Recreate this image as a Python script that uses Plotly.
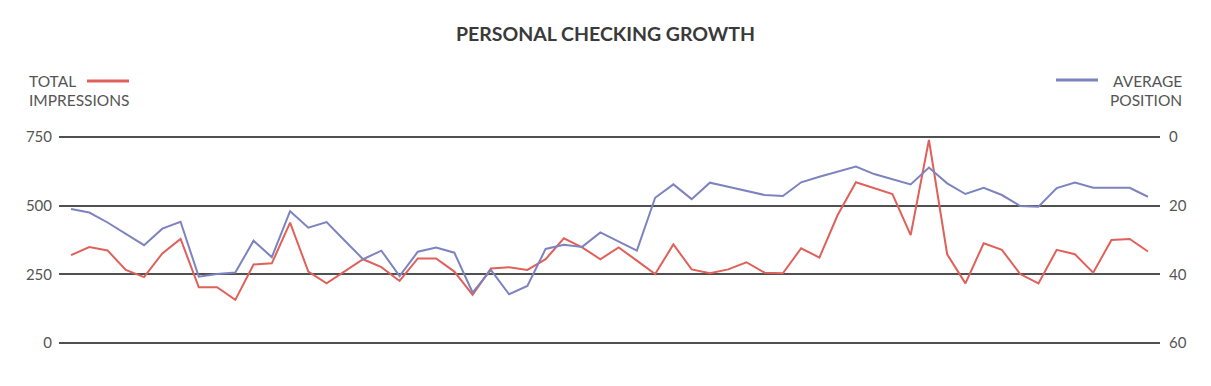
import plotly.graph_objects as go

# Data
periods = list(range(60))
total_impressions = [320, 349, 337, 266, 240, 326, 379, 203, 203, 157,
                     286, 290, 438, 260, 217, 260, 305, 276, 226, 308,
                     308, 260, 175, 271, 276, 266, 305, 381, 348, 305,
                     348, 300, 251, 359, 268, 254, 268, 294, 256, 254,
                     345, 311, 466, 585, 564, 542, 393, 739, 323, 217,
                     363, 339, 251, 217, 339, 323, 256, 375, 379, 333]
average_position = [21.0, 22.0, 24.9, 28.3, 31.5, 26.7, 24.7, 40.7, 39.9, 39.5,
                    30.2, 35.0, 21.6, 26.4, 24.8, 30.2, 35.6, 33.1, 40.5, 33.4,
                    32.2, 33.7, 45.3, 38.7, 45.8, 43.4, 32.6, 31.4, 32.0, 27.8,
                    30.4, 33.1, 17.7, 13.8, 18.1, 13.3, 14.5, 15.6, 16.9, 17.2,
                    13.2, 11.6, 10.2, 8.6, 10.8, 12.3, 13.8, 8.9, 13.5, 16.6,
                    14.8, 16.9, 20.1, 20.3, 14.9, 13.3, 14.8, 14.8, 14.8, 17.4]
left_ticks = [0, 250, 500, 750]
right_ticks = [0, 20, 40, 60]

RED = "#E0605A"
BLUE = "#7C83BF"
TXT = "#555555"
GRID = "#505050"
FONT = "Lato"

W, H = 1211, 386
# plot area extended by 2px top/bottom so the 0 and 750 grid lines are not clipped
L, R, T, B = 59, 1160, 135, 345
PAD = 2.0  # px


def px(x):
    return (x - L) / (R - L)


def py(y):
    return (B - y) / (B - T)


fig = go.Figure()
fig.add_trace(go.Scatter(x=periods, y=total_impressions, mode="lines",
                         line=dict(color=RED, width=2), name="TOTAL IMPRESSIONS",
                         yaxis="y"))
fig.add_trace(go.Scatter(x=periods, y=average_position, mode="lines",
                         line=dict(color=BLUE, width=2), name="AVERAGE POSITION",
                         yaxis="y2"))

inner = (B - T) - 2 * PAD
pad_l = PAD * 750 / inner
pad_r = PAD * 60 / inner

fig.update_layout(
    width=W, height=H, autosize=False,
    margin=dict(l=L, r=W - R, t=T, b=H - B, pad=0),
    paper_bgcolor="white", plot_bgcolor="white",
    showlegend=False,
    font=dict(family=FONT, color=TXT, size=15),
    title=dict(text="<b>PERSONAL CHECKING GROWTH</b>", x=0.5, xanchor="center",
               y=1 - 34 / H, yanchor="middle",
               font=dict(family=FONT, size=19.5, color="#3a3a3a")),
    xaxis=dict(range=[-0.66, 59.66], visible=False, showgrid=False, zeroline=False),
    yaxis=dict(range=[-pad_l, 750 + pad_l], tickvals=left_ticks, showgrid=True,
               gridcolor=GRID, gridwidth=2, zeroline=False, showline=False,
               ticks="", ticklabelstandoff=6,
               tickfont=dict(family=FONT, size=15, color=TXT)),
    yaxis2=dict(range=[60 + pad_r, -pad_r], tickvals=right_ticks, overlaying="y", side="right",
                showgrid=False, zeroline=False, showline=False, ticks="",
                ticklabelstandoff=8,
                tickfont=dict(family=FONT, size=15, color=TXT)),
)

# Legends drawn as annotations + line shapes
ann = dict(xref="paper", yref="paper", showarrow=False,
           font=dict(family=FONT, size=15.5, color=TXT))
fig.add_annotation(text="TOTAL", x=px(27), y=py(81), xanchor="left", yanchor="middle", **ann)
fig.add_annotation(text="IMPRESSIONS", x=px(27), y=py(100), xanchor="left", yanchor="middle", **ann)
fig.add_annotation(text="AVERAGE", x=px(1184), y=py(81), xanchor="right", yanchor="middle", **ann)
fig.add_annotation(text="POSITION", x=px(1184), y=py(100), xanchor="right", yanchor="middle", **ann)
fig.add_shape(type="line", xref="paper", yref="paper", x0=px(87), x1=px(129),
              y0=py(81), y1=py(81), line=dict(color=RED, width=3))
fig.add_shape(type="line", xref="paper", yref="paper", x0=px(1056), x1=px(1098),
              y0=py(80), y1=py(80), line=dict(color=BLUE, width=3))

fig.write_html("out.html", config={"displayModeBar": False},
               post_script="document.body.style.margin='0';document.body.style.overflow='hidden';")
